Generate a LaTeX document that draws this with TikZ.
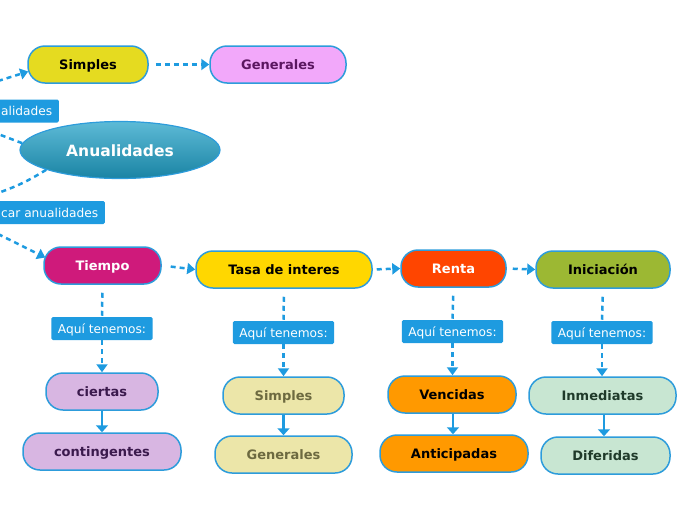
\documentclass[tikz,border=0pt]{standalone}
\usepackage{fontspec}
\setmainfont{DejaVu Sans}
\usetikzlibrary{arrows.meta,shapes.geometric,calc}
\definecolor{lineblue}{HTML}{1E9BE0}
\definecolor{bordblue}{HTML}{2D9CDB}
\definecolor{cSimp}{HTML}{E5DB20}
\definecolor{cGen}{HTML}{F2A8FA}
\definecolor{tGen}{HTML}{5B1660}
\definecolor{cTiem}{HTML}{CF1A7B}
\definecolor{cTasa}{HTML}{FFD700}
\definecolor{cRenta}{HTML}{FF4500}
\definecolor{cIni}{HTML}{9CB833}
\definecolor{cCier}{HTML}{D8B6E2}
\definecolor{tCier}{HTML}{3B1A4D}
\definecolor{cSim2}{HTML}{ECE6A9}
\definecolor{tSim2}{HTML}{6D6A40}
\definecolor{cVenc}{HTML}{FF9900}
\definecolor{cInm}{HTML}{C8E6D2}
\definecolor{tInm}{HTML}{1F3A2A}
\definecolor{elTop}{HTML}{5DBAD6}
\definecolor{elBot}{HTML}{1A84A4}
\tikzset{
  mbox/.style={draw=bordblue, line width=1.5pt, rounded corners=17pt, minimum height=37pt,
    inner sep=0pt, text height=11pt, text depth=1.5pt, font=\fontsize{13}{15}\selectfont\bfseries},
  lbl/.style={fill=lineblue, text=white, rounded corners=1.5pt, minimum height=23pt,
    inner xsep=6.5pt, inner ysep=0pt, text height=10.5pt, text depth=1.5pt,
    font=\fontsize{12.2}{14}\selectfont},
  dconn/.style={draw=lineblue, line width=2.5pt, dash pattern=on 5pt off 4pt},
  arr/.style={-{Triangle[length=8pt,width=11pt]}},
  sconn/.style={draw=lineblue, line width=2.5pt, -{Triangle[length=7pt,width=12pt]}},
}
\begin{document}
\begin{tikzpicture}[x=1pt,y=-1pt]
\useasboundingbox (0,0) rectangle (696,520);
% nodes
\node[mbox, fill=cSimp, text=black, minimum width=120pt] (simp) at (88,64.5) {Simples};
\node[mbox, fill=cGen, text=tGen, minimum width=136pt] (gen) at (278,64.5) {Generales};
\node[ellipse, draw=bordblue, line width=1.2pt, top color=elTop, bottom color=elBot,
  minimum width=200pt, minimum height=57pt, inner sep=0pt, text=white,
  text height=12pt, text depth=0pt,
  font=\fontsize{15.5}{18}\selectfont\bfseries] (anual) at (120,150) {Anualidades};
\node[lbl, anchor=east] (l1) at (59,111) {alidades};
\node[lbl, anchor=east] (l2) at (105,212.5) {car anualidades};

\node[mbox, fill=cTiem, text=white, minimum width=117pt] (tiem) at (102.5,265.5) {Tiempo};
\node[mbox, fill=cTasa, text=black, minimum width=176pt] (tasa) at (284,269.5) {Tasa de interes};
\node[mbox, fill=cRenta, text=white, minimum width=105pt] (renta) at (453.5,268.5) {Renta};
\node[mbox, fill=cIni, text=black, minimum width=134pt] (ini) at (603,269.5) {Iniciación};

\node[lbl] (a1) at (102,328.5) {Aquí tenemos:};
\node[lbl] (a2) at (283.5,332.5) {Aquí tenemos:};
\node[lbl] (a3) at (452.5,331.5) {Aquí tenemos:};
\node[lbl] (a4) at (602,332.5) {Aquí tenemos:};

\node[mbox, fill=cCier, text=tCier, minimum width=112pt] (cier) at (102,391.5) {ciertas};
\node[mbox, fill=cCier, text=tCier, minimum width=158pt] (cont) at (102,451.5) {contingentes};
\node[mbox, fill=cSim2, text=tSim2, minimum width=121pt] (sim2) at (283.5,395.5) {Simples};
\node[mbox, fill=cSim2, text=tSim2, minimum width=137pt] (gen2) at (283.5,454.5) {Generales};
\node[mbox, fill=cVenc, text=black, minimum width=128pt] (venc) at (452,394.5) {Vencidas};
\node[mbox, fill=cVenc, text=black, minimum width=148pt] (anti) at (454,453.5) {Anticipadas};
\node[mbox, fill=cInm, text=tInm, minimum width=147pt] (inm) at (602.5,395.5) {Inmediatas};
\node[mbox, fill=cInm, text=tInm, minimum width=129pt] (dif) at (605.5,455.5) {Diferidas};

% free ends
\coordinate (f1) at (-2,81);
\coordinate (f2) at (-2,134);
\coordinate (f3) at (-2,193);
\coordinate (f4) at (-2,234);

% connectors on the left
\draw[dconn, arr] (f1) -- ($(simp.west)+(1,7)$);
\draw[dconn] (anual.176) -- (f2);
\draw[dconn] (anual.195) to[bend left=6] (f3);
\draw[dconn, arr] (f4) -- ($(tiem.west)+(2,-8)$);

% horizontal connectors
\draw[dconn, arr, shorten <=7pt] (simp.east) -- (gen.west);
\draw[dconn, arr, shorten <=9pt] (tiem.east) -- (tasa.west);
\draw[dconn, arr, shorten <=4pt] (tasa.east) -- (renta.west);
\draw[dconn, arr, shorten <=6pt] (renta.east) -- (ini.west);

% vertical connectors
\foreach \p/\l/\c in {tiem/a1/cier, tasa/a2/sim2, renta/a3/venc, ini/a4/inm}{
  \draw[dconn, shorten <=8pt] (\p.south) -- (\l.north);
  \draw[dconn, arr] (\l.south) -- (\l.south |- \c.north);
}
\draw[sconn] (cier.south) -- (cier.south |- cont.north);
\draw[sconn] (sim2.south) -- (sim2.south |- gen2.north);
\draw[sconn] ($(venc.south)+(1,0)$) -- ($(venc.south |- anti.north)+(1,0)$);
\draw[sconn] ($(inm.south)+(1.5,0)$) -- ($(inm.south |- dif.north)+(1.5,0)$);
\end{tikzpicture}
\end{document}
